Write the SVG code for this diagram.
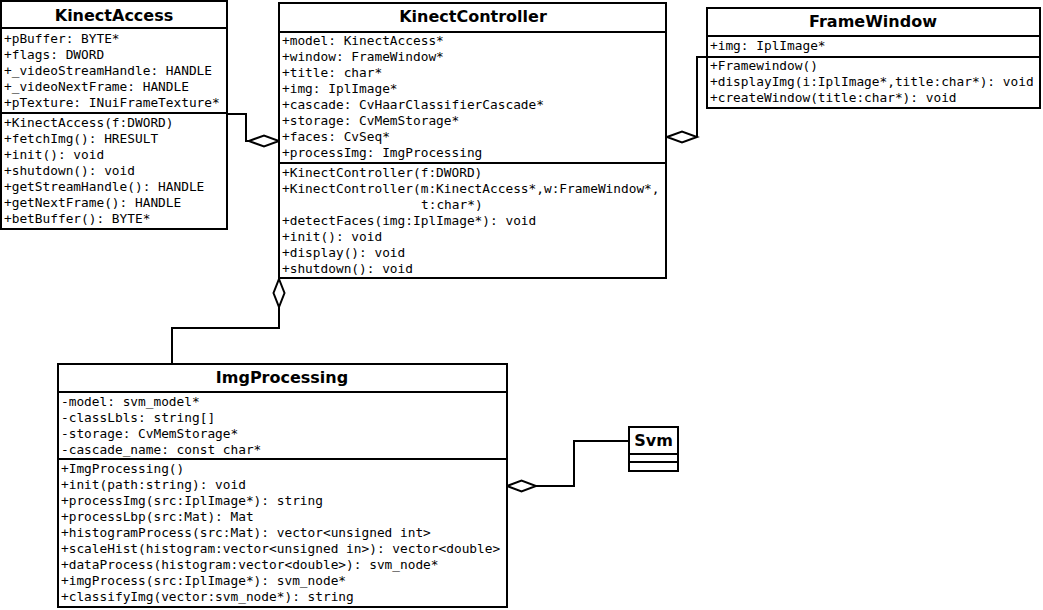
<svg xmlns="http://www.w3.org/2000/svg" width="1043" height="610" viewBox="0 0 1043 610">
<style>
.box{fill:#fff;stroke:#000;stroke-width:2}
.sep{stroke:#000;stroke-width:2}
.t{font-family:"DejaVu Sans",sans-serif;font-weight:bold;font-size:16px;text-anchor:middle;fill:#000}
.m{font-family:"DejaVu Sans Mono",monospace;font-size:12.8px;fill:#000}
.c{fill:none;stroke:#000;stroke-width:2}
.d{fill:#fff;stroke:#000;stroke-width:2}
</style>
<rect width="1043" height="610" fill="#fff"/>
<g id="connectors">
<polyline class="c" points="227,114 246,114 246,141 249,141"/>
<polygon class="d" points="249,141 264,135.5 279,141 264,146.5"/>
<polyline class="c" points="279,307 279,328 172,328 172,364"/>
<polygon class="d" points="279,279 284.5,293 279,307 273.5,293"/>
<polyline class="c" points="697,137 697,57 707,57"/>
<polygon class="d" points="667,137 682,131.5 697,137 682,142.5"/>
<polyline class="c" points="536,486 574,486 574,441 629,441"/>
<polygon class="d" points="507,486 521.5,480.5 536,486 521.5,491.5"/>
</g>
<g id="KinectAccess">
<rect class="box" x="1" y="1" width="226" height="228"/>
<line class="sep" x1="1" y1="28" x2="227" y2="28"/>
<line class="sep" x1="1" y1="113" x2="227" y2="113"/>
<text class="t" x="114" y="20.5">KinectAccess</text>
<text class="m" x="4" y="43">+pBuffer: BYTE*</text>
<text class="m" x="4" y="59">+flags: DWORD</text>
<text class="m" x="4" y="75">+_videoStreamHandle: HANDLE</text>
<text class="m" x="4" y="91">+_videoNextFrame: HANDLE</text>
<text class="m" x="4" y="107">+pTexture: INuiFrameTexture*</text>
<text class="m" x="4" y="127">+KinectAccess(f:DWORD)</text>
<text class="m" x="4" y="143">+fetchImg(): HRESULT</text>
<text class="m" x="4" y="159">+init(): void</text>
<text class="m" x="4" y="175">+shutdown(): void</text>
<text class="m" x="4" y="191">+getStreamHandle(): HANDLE</text>
<text class="m" x="4" y="207">+getNextFrame(): HANDLE</text>
<text class="m" x="4" y="223">+betBuffer(): BYTE*</text>
</g>
<g id="KinectController">
<rect class="box" x="279" y="3" width="387" height="275"/>
<line class="sep" x1="279" y1="32" x2="666" y2="32"/>
<line class="sep" x1="279" y1="163" x2="666" y2="163"/>
<text class="t" x="473" y="22">KinectController</text>
<text class="m" x="282" y="45">+model: KinectAccess*</text>
<text class="m" x="282" y="61">+window: FrameWindow*</text>
<text class="m" x="282" y="77">+title: char*</text>
<text class="m" x="282" y="93">+img: IplImage*</text>
<text class="m" x="282" y="109">+cascade: CvHaarClassifierCascade*</text>
<text class="m" x="282" y="125">+storage: CvMemStorage*</text>
<text class="m" x="282" y="141">+faces: CvSeq*</text>
<text class="m" x="282" y="157">+processImg: ImgProcessing</text>
<text class="m" x="282" y="177">+KinectController(f:DWORD)</text>
<text class="m" x="282" y="193">+KinectController(m:KinectAccess*,w:FrameWindow*,</text>
<text class="m" x="421" y="209">t:char*)</text>
<text class="m" x="282" y="225">+detectFaces(img:IplImage*): void</text>
<text class="m" x="282" y="241">+init(): void</text>
<text class="m" x="282" y="257">+display(): void</text>
<text class="m" x="282" y="273">+shutdown(): void</text>
</g>
<g id="FrameWindow">
<rect class="box" x="707" y="8" width="333" height="100"/>
<line class="sep" x1="707" y1="36" x2="1040" y2="36"/>
<line class="sep" x1="707" y1="57" x2="1040" y2="57"/>
<text class="t" x="873" y="26.5">FrameWindow</text>
<text class="m" x="710" y="50">+img: IplImage*</text>
<text class="m" x="710" y="69.5">+Framewindow()</text>
<text class="m" x="710" y="85.5">+displayImg(i:IplImage*,title:char*): void</text>
<text class="m" x="710" y="101.5">+createWindow(title:char*): void</text>
</g>
<g id="ImgProcessing">
<rect class="box" x="58" y="364" width="449" height="243"/>
<line class="sep" x1="58" y1="392" x2="507" y2="392"/>
<line class="sep" x1="58" y1="459" x2="507" y2="459"/>
<text class="t" x="282" y="383">ImgProcessing</text>
<text class="m" x="61" y="406">-model: svm_model*</text>
<text class="m" x="61" y="422">-classLbls: string[]</text>
<text class="m" x="61" y="438">-storage: CvMemStorage*</text>
<text class="m" x="61" y="454">-cascade_name: const char*</text>
<text class="m" x="61" y="473">+ImgProcessing()</text>
<text class="m" x="61" y="489">+init(path:string): void</text>
<text class="m" x="61" y="505">+processImg(src:IplImage*): string</text>
<text class="m" x="61" y="521">+processLbp(src:Mat): Mat</text>
<text class="m" x="61" y="537">+histogramProcess(src:Mat): vector&lt;unsigned int&gt;</text>
<text class="m" x="61" y="553">+scaleHist(histogram:vector&lt;unsigned in&gt;): vector&lt;double&gt;</text>
<text class="m" x="61" y="569">+dataProcess(histogram:vector&lt;double&gt;): svm_node*</text>
<text class="m" x="61" y="585">+imgProcess(src:IplImage*): svm_node*</text>
<text class="m" x="61" y="601">+classifyImg(vector:svm_node*): string</text>
</g>
<g id="Svm">
<rect class="box" x="629" y="427" width="49" height="44"/>
<line class="sep" x1="629" y1="454" x2="678" y2="454"/>
<line class="sep" x1="629" y1="462" x2="678" y2="462"/>
<text class="t" x="653.5" y="446">Svm</text>
</g>
</svg>
